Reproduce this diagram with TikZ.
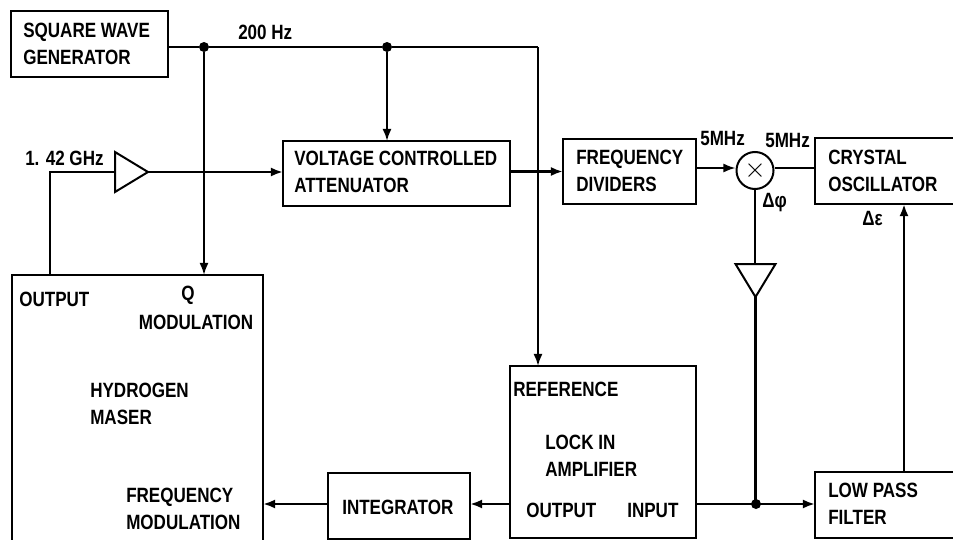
\documentclass[tikz,border=0pt]{standalone}
\usepackage{fontspec}
\setmainfont[FakeStretch=0.825]{Liberation Sans}
\usetikzlibrary{shapes.geometric,arrows.meta,positioning,calc}
\tikzset{
  bloque/.style={rectangle, draw, line width=1.5pt, inner sep=0pt, outer sep=0pt},
  etiq/.style={font=\fontsize{15.5}{20}\selectfont\bfseries, inner sep=0pt, align=left},
  amp/.style={isosceles triangle, isosceles triangle stretches, draw, line width=1.5pt, inner sep=0pt, outer sep=0pt,
              minimum width=30pt, minimum height=24.75pt},
  punto/.style={circle, fill=black, minimum size=7.5pt, inner sep=0pt},
  flecha/.style={-{Latex[length=3.2mm,width=2.4mm]}, line width=1.5pt},
  flechag/.style={-{Latex[length=3.2mm,width=2.4mm]}, line width=2.2pt},
  gruesa/.style={line width=2.2pt}
}
\begin{document}
\begin{tikzpicture}[x=0.75pt,y=-0.75pt]
\clip (0,0) rectangle (953,539);

% bloques
\node[bloque, minimum width=117.75pt, minimum height=49.5pt] (generador) at (89.5,44) {};
\node[bloque, minimum width=170.25pt, minimum height=48.75pt] (atenuador) at (396.5,173.5) {};
\node[bloque, minimum width=99.75pt, minimum height=48.75pt] (divisores) at (629.5,171.5) {};
\node[bloque, minimum width=120pt, minimum height=49.5pt] (cristal) at (895,171) {};
\node[bloque, minimum width=188.25pt, minimum height=210pt] (maser) at (137.5,415) {};
\node[bloque, minimum width=139.5pt, minimum height=129pt] (lockin) at (603,452) {};
\node[bloque, minimum width=106.5pt, minimum height=49.5pt] (integrador) at (399,506) {};
\node[bloque, minimum width=120pt, minimum height=49.5pt] (filtro) at (895,505) {};

\node[circle, draw, line width=1.5pt, minimum size=27.75pt, inner sep=0pt, font=\huge] (mezclador) at (755,170.5) {$\times$};
\node[amp, anchor=lower side] (amp1) at (115,172) {};
\node[amp, shape border rotate=-90, anchor=lower side] (amp2) at (755.5,264) {};

\node[punto] (nodo1) at (204,47) {};
\node[punto] (nodo2) at (387,47) {};
\node[punto] (nodo3) at (756,504) {};
\coordinate (esquina1) at (538,47);
\coordinate (esquina2) at (50,172);
\coordinate (linea) at (755,168);
\coordinate (subida) at (904,300);

% textos
\node[etiq, anchor=west] at (23,44) {SQUARE WAVE\\GENERATOR};
\node[etiq, anchor=west] at (238,32) {200 Hz};
\node[etiq, anchor=west] at (25,158) {1. 42 GHz};
\node[etiq, anchor=west] at (294,172) {VOLTAGE CONTROLLED\\ATTENUATOR};
\node[etiq, anchor=west] at (576,171) {FREQUENCY\\DIVIDERS};
\node[etiq, anchor=west] at (700,138) {5MHz};
\node[etiq, anchor=west] at (765,140) {5MHz};
\node[etiq, anchor=west] at (828,171) {CRYSTAL\\OSCILLATOR};
\node[etiq, anchor=west] at (762,203) {Δφ};
\node[etiq, anchor=west] at (862,218) {Δε};
\node[etiq, anchor=west] at (19,299) {OUTPUT};
\node[etiq] at (188,295) {Q};
\node[etiq] at (196,322) {MODULATION};
\node[etiq, anchor=west] at (90,404) {HYDROGEN\\MASER};
\node[etiq, anchor=west] at (126,509) {FREQUENCY\\MODULATION};
\node[etiq, anchor=west] at (342,507) {INTEGRATOR};
\node[etiq, anchor=west] at (513,389) {REFERENCE};
\node[etiq, anchor=west] at (545,456) {LOCK IN\\AMPLIFIER};
\node[etiq, anchor=west] at (526,510) {OUTPUT};
\node[etiq, anchor=west] at (627,510) {INPUT};
\node[etiq, anchor=west] at (828,504) {LOW PASS\\FILTER};

% conexiones
\draw[gruesa] (generador.east |- nodo1) -- (nodo1);
\draw[line width=1.5pt] (nodo1) -- (nodo2) -- (esquina1);
\draw[flecha] (nodo1) -- (nodo1 |- maser.north);
\draw[flecha] (nodo2) -- (nodo2 |- atenuador.north);
\draw[flecha] (esquina1) -- (esquina1 |- lockin.north);
\draw[line width=1.5pt] (esquina2 |- maser.north) -- (esquina2) -- (amp1.lower side);
\draw[flechag] (amp1.apex) -- (atenuador.west |- amp1.apex);
\draw[flechag] (atenuador.east |- divisores) -- (divisores.west);
\draw[flecha] (divisores.east |- linea) -- (mezclador.west |- linea);
\draw[gruesa] (mezclador.east |- linea) -- (cristal.west |- linea);
\draw[gruesa] (mezclador.south) -- (mezclador.south |- amp2.lower side);
\draw[gruesa] (amp2.apex) -- (amp2.apex |- nodo3);
\draw[flechag] (lockin.east |- nodo3) -- (filtro.west |- nodo3);
\draw[flechag] (filtro.north -| subida) -- (cristal.south -| subida);
\draw[flechag] (lockin.west |- nodo3) -- (integrador.east |- nodo3);
\draw[flechag] (integrador.west |- nodo3) -- (maser.east |- nodo3);
\end{tikzpicture}
\end{document}
